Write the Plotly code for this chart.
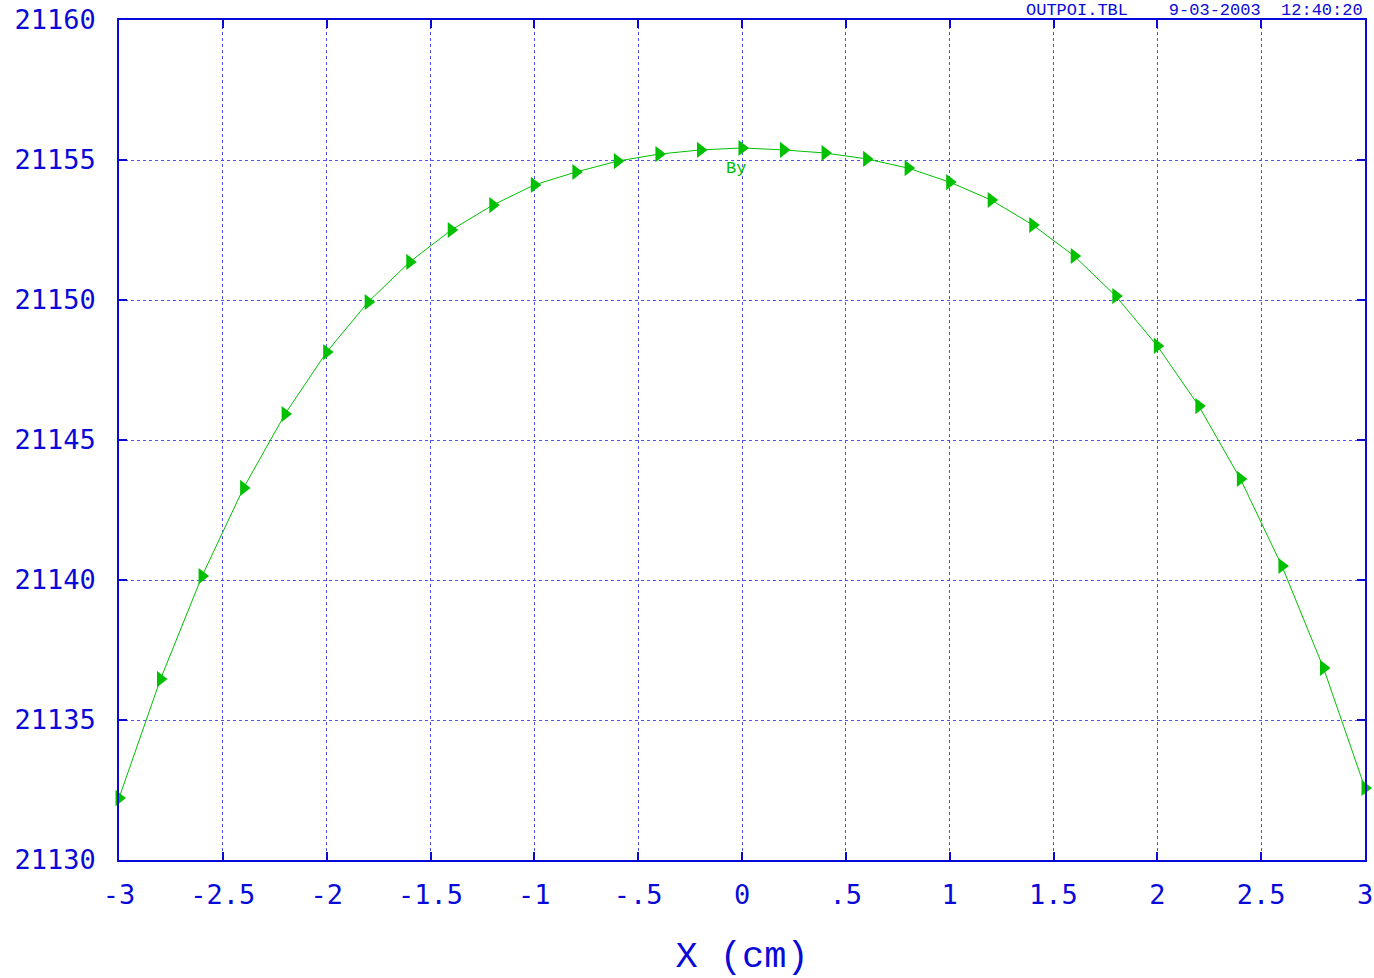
import plotly.graph_objects as go

x_vals = [-3.0, -2.8, -2.6, -2.4, -2.2, -2.0, -1.8, -1.6, -1.4, -1.2, -1.0, -0.8, -0.6, -0.4, -0.2,
          0.0, 0.2, 0.4, 0.6, 0.8, 1.0, 1.2, 1.4, 1.6, 1.8, 2.0, 2.2, 2.4, 2.6, 2.8, 3.0]
by_vals = [21132.21, 21136.46, 21140.14, 21143.29, 21145.93, 21148.14, 21149.93, 21151.36,
           21152.50, 21153.39, 21154.11, 21154.57, 21154.96, 21155.21, 21155.36, 21155.43,
           21155.36, 21155.25, 21155.04, 21154.71, 21154.21, 21153.57, 21152.68, 21151.57,
           21150.14, 21148.36, 21146.21, 21143.61, 21140.50, 21136.86, 21132.57]

x_tickvals = [-3, -2.5, -2, -1.5, -1, -0.5, 0, 0.5, 1, 1.5, 2, 2.5, 3]
x_ticktext = ["-3", "-2.5", "-2", "-1.5", "-1", "-.5", "0", ".5", "1", "1.5", "2", "2.5", "3"]
y_tickvals = [21130, 21135, 21140, 21145, 21150, 21155, 21160]
y_ticktext = [str(v) for v in y_tickvals]

BLUE = "#0a0ad8"
GREEN = "#00c000"

fig = go.Figure()
fig.add_trace(go.Scatter(
    x=x_vals, y=by_vals, mode="lines+markers",
    line=dict(color=GREEN, width=1),
    marker=dict(symbol="triangle-right", size=14, color=GREEN),
    showlegend=False, cliponaxis=False,
))

fig.add_annotation(x=x_vals[15], y=by_vals[15], text="By", showarrow=False,
                   xanchor="center", yanchor="top", xshift=-6, yshift=-9,
                   font=dict(family="Liberation Mono", size=17, color=GREEN))
fig.add_annotation(xref="paper", yref="paper", x=1, y=1, xanchor="right", yanchor="bottom",
                   text="OUTPOI.TBL    9-03-2003  12:40:20", showarrow=False, yshift=-2,
                   font=dict(family="Liberation Mono", size=17, color=BLUE))

axis_common = dict(
    showline=True, linecolor=BLUE, linewidth=1.5, mirror="ticks",
    ticks="inside", ticklen=8, tickcolor=BLUE, tickwidth=1.5,
    showgrid=True, gridcolor="#5050f0", gridwidth=1, griddash="dot",
    zeroline=False, automargin=False,
    tickfont=dict(family="DejaVu Sans Mono", size=27, color=BLUE),
)

fig.update_xaxes(range=[-3, 3], tickmode="array", tickvals=x_tickvals, ticktext=x_ticktext,
                 ticklabelstandoff=10,
                 title=dict(text="X (cm)", font=dict(family="Liberation Mono", size=37, color=BLUE),
                            standoff=34),
                 **axis_common)
fig.update_yaxes(range=[21130, 21160], tickmode="array", tickvals=y_tickvals, ticktext=y_ticktext,
                 ticklabelstandoff=16,
                 **axis_common)

fig.update_layout(
    width=1374, height=978,
    margin=dict(l=119, r=9, t=20, b=118),
    plot_bgcolor="white", paper_bgcolor="white",
)

fig.write_html("out.html")
